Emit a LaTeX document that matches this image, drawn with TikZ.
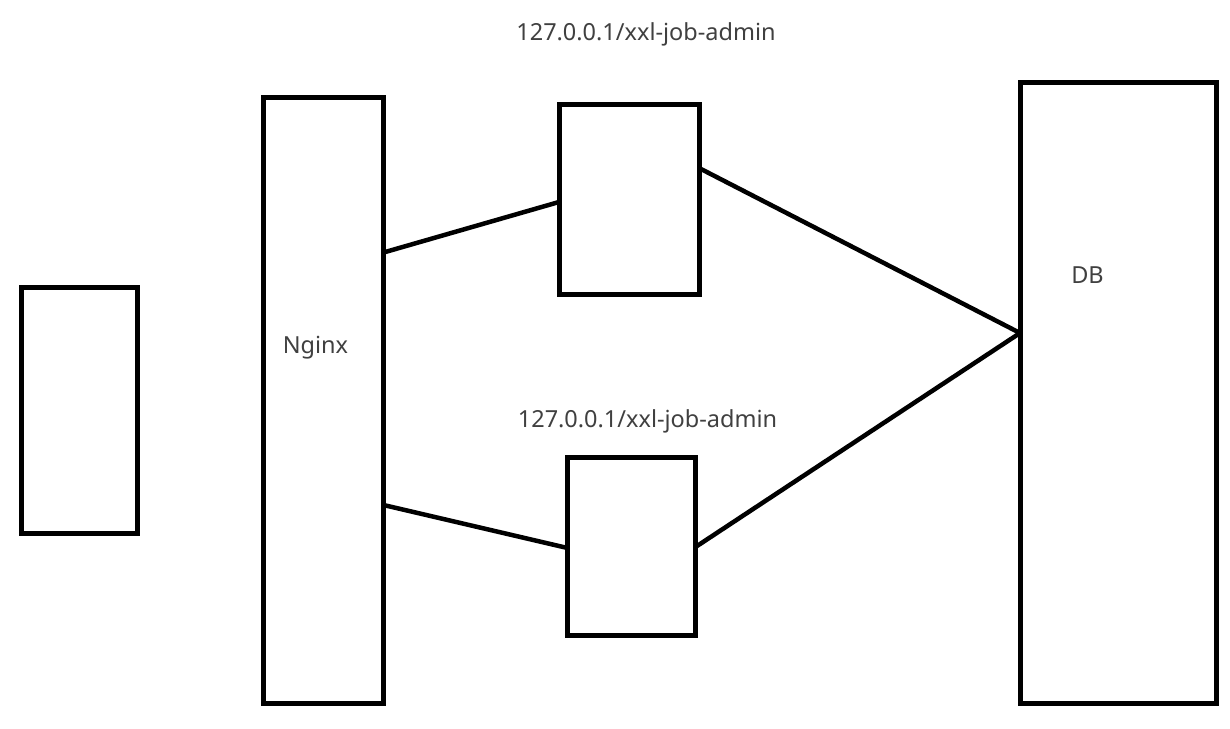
\documentclass[tikz,border=0pt]{standalone}
\usepackage{fontspec}
\setmainfont{Noto Sans}
\begin{document}
\begin{tikzpicture}[x=1pt,y=-1pt,
    box/.style={draw,line width=5pt,inner sep=0pt,outer sep=0pt},
    link/.style={line width=4.5pt},
    lbl/.style={text=black!75,font=\fontsize{23.5}{28}\selectfont,anchor=base}]
  \useasboundingbox (0,0) rectangle (1230,728);

  \node[box,minimum width=116pt,minimum height=246pt] (client) at (79.5,410.5) {};
  \node[box,minimum width=120pt,minimum height=606pt] (nginx) at (323.5,400.5) {};
  \node[box,minimum width=140pt,minimum height=190pt] (admin1) at (629,199) {};
  \node[box,minimum width=128pt,minimum height=178pt] (admin2) at (631.5,546.5) {};
  \node[box,minimum width=196pt,minimum height=621.5pt] (db) at (1118,392.75) {};

  \node[lbl] (nginxlbl) at (315.5,353) {Nginx};
  \node[lbl] (dblbl) at (1087.5,283) {DB};
  \node[lbl] (url1) at (646,40) {127.0.0.1/xxl-job-admin};
  \node[lbl] (url2) at (647.5,427) {127.0.0.1/xxl-job-admin};

  \draw[link] ([yshift=148pt]nginx.east) -- ([yshift=-3pt]admin1.west);
  \draw[link] ([yshift=-104.5pt]nginx.east) -- ([yshift=-1.5pt]admin2.west);
  \draw[link] ([yshift=31pt]admin1.east) -- ([yshift=59.75pt]db.west);
  \draw[link] ([yshift=-0.5pt]admin2.east) -- ([yshift=59.75pt]db.west);
\end{tikzpicture}
\end{document}
